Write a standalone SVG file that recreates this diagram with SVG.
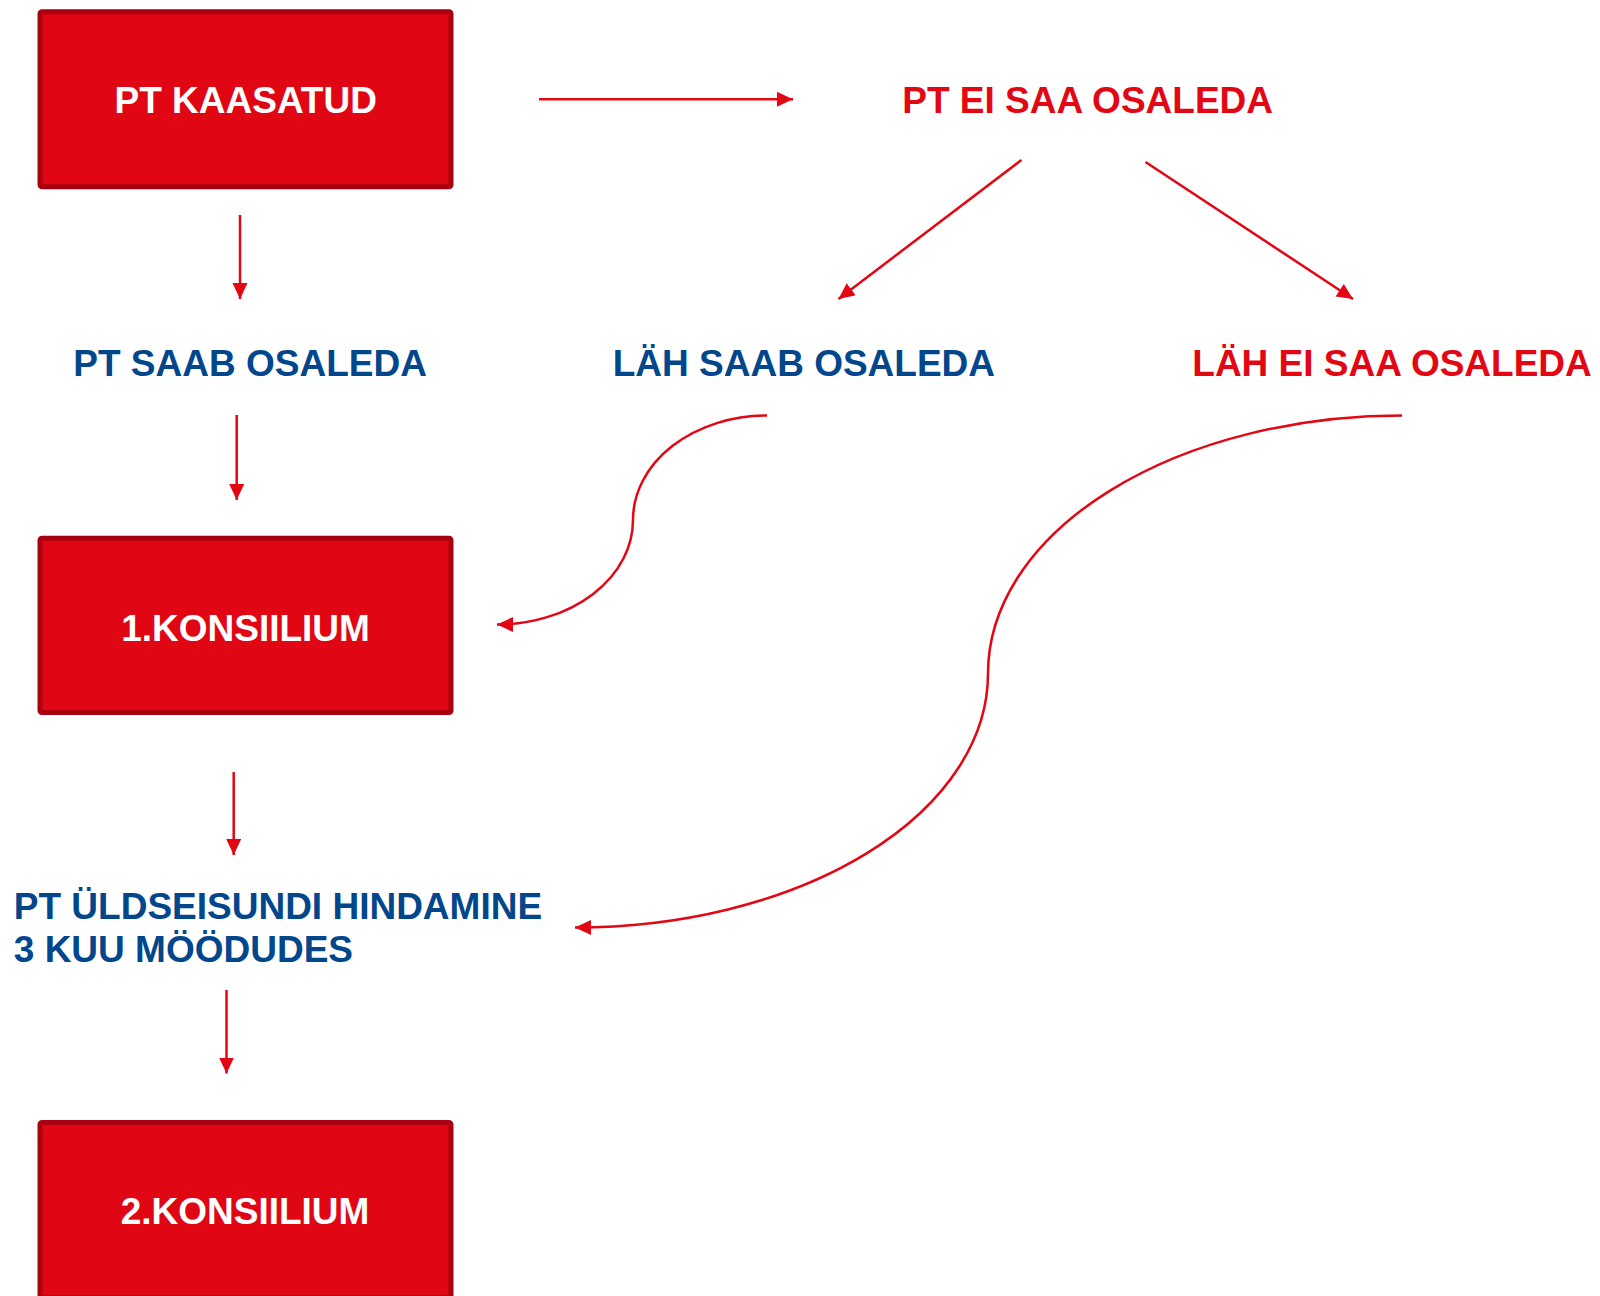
<svg xmlns="http://www.w3.org/2000/svg" width="1600" height="1296" viewBox="0 0 1600 1296">
<style>
.box{fill:#E10613;stroke:#A8000F;stroke-width:5}
.bt{font-family:"Liberation Sans",Arial,sans-serif;font-weight:bold;font-size:37px;fill:#FFFFFF;text-anchor:middle}
.blue{font-family:"Liberation Sans",Arial,sans-serif;font-weight:bold;font-size:37px;fill:#02468C}
.red{font-family:"Liberation Sans",Arial,sans-serif;font-weight:bold;font-size:37px;fill:#E30613}
.c{fill:none;stroke:#E30613;stroke-width:2.5;marker-end:url(#ah)}
</style>
<defs>
<marker id="ah" markerUnits="userSpaceOnUse" markerWidth="17" markerHeight="16" refX="16" refY="7.5" orient="auto">
<path d="M0,0 L16,7.5 L0,15 z" fill="#E30613"/>
</marker>
</defs>
<rect width="1600" height="1296" fill="#FFFFFF"/>
<g id="connectors">
<path class="c" d="M539,99.3 L793,99.3"/>
<path class="c" d="M1021.5,160 L838.5,299"/>
<path class="c" d="M1145.5,162 L1353,299"/>
<path class="c" d="M240,215 L240,299"/>
<path class="c" d="M236.7,415 L236.7,500"/>
<path class="c" d="M233.7,772 L233.7,855"/>
<path class="c" d="M226.5,990 L226.5,1073.5"/>
<path class="c" d="M767,415.5 A134,104.5 0 0 0 633,520 A136,104.5 0 0 1 497,624.5"/>
<path class="c" d="M1402,415.5 A414,258 0 0 0 988,673.5 A413,254 0 0 1 575,927.5"/>
</g>
<g id="n1"><rect class="box" x="40" y="11.8" width="411" height="175" rx="2"/><text class="bt" x="245.7" y="113.3">PT KAASATUD</text></g>
<g id="n2"><text class="red" x="902.3" y="113.3">PT EI SAA OSALEDA</text></g>
<g id="n3"><text class="blue" x="73.3" y="375.7">PT SAAB OSALEDA</text></g>
<g id="n4"><text class="blue" x="612.7" y="375.7">LÄH SAAB OSALEDA</text></g>
<g id="n5"><text class="red" x="1192.3" y="375.7">LÄH EI SAA OSALEDA</text></g>
<g id="n6"><rect class="box" x="40" y="538.2" width="411" height="174.3" rx="2"/><text class="bt" x="245.5" y="640.7">1.KONSIILIUM</text></g>
<g id="n7"><text class="blue" x="13.8" y="919">PT ÜLDSEISUNDI HINDAMINE</text><text class="blue" x="13.8" y="961.7">3 KUU MÖÖDUDES</text></g>
<g id="n8"><rect class="box" x="40" y="1122.5" width="411" height="175" rx="2"/><text class="bt" x="245" y="1224.3">2.KONSIILIUM</text></g>
</svg>
